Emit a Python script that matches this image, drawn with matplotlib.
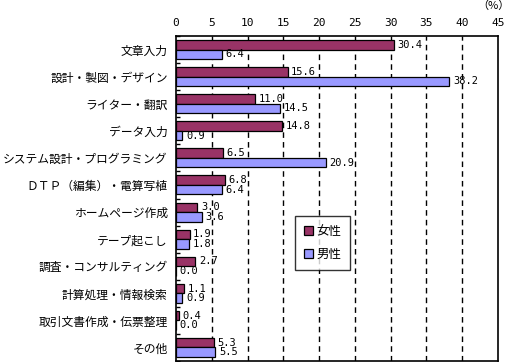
import numpy as np
import matplotlib
matplotlib.use('Agg')
import matplotlib.pyplot as plt
from matplotlib.ticker import FixedLocator

plt.rcParams['font.family'] = ['Noto Sans CJK JP', 'DejaVu Sans']

categories = ['文章入力', '設計・製図・デザイン', 'ライター・翻訳', 'データ入力',
              'システム設計・プログラミング', 'ＤＴＰ（編集）・電算写植', 'ホームページ作成',
              'テープ起こし', '調査・コンサルティング', '計算処理・情報検索',
              '取引文書作成・伝票整理', 'その他']
female = [30.4, 15.6, 11.0, 14.8, 6.5, 6.8, 3.0, 1.9, 2.7, 1.1, 0.4, 5.3]
male = [6.4, 38.2, 14.5, 0.9, 20.9, 6.4, 3.6, 1.8, 0.0, 0.9, 0.0, 5.5]
xticks = [0, 5, 10, 15, 20, 25, 30, 35, 40, 45]

fig = plt.figure(figsize=(5.1, 3.62), dpi=100)
ax = fig.add_axes([176 / 510, 1 - 361 / 362, 322 / 510, 325 / 362])

n = len(categories)
y = np.arange(n)
h = 0.35
c_f = '#993366'
c_m = '#9999FF'

ax.barh(y - h / 2, female, height=h, color=c_f, edgecolor='black', linewidth=0.9, label='女性', zorder=3)
ax.barh(y + h / 2, male, height=h, color=c_m, edgecolor='black', linewidth=0.9, label='男性', zorder=3)

for i in range(n):
    ax.text(female[i] + 0.5, y[i] - h / 2, f'{female[i]:.1f}', va='center', ha='left',
            fontsize=7.5, family='DejaVu Sans Mono', zorder=4)
    ax.text(male[i] + 0.5, y[i] + h / 2, f'{male[i]:.1f}', va='center', ha='left',
            fontsize=7.5, family='DejaVu Sans Mono', zorder=4)

ax.set_xlim(0, 45)
ax.set_ylim(n - 0.5, -0.5)
ax.set_xticks(xticks)
ax.xaxis.tick_top()
ax.tick_params(axis='x', length=0, labelsize=8, pad=6)
for lab in ax.get_xticklabels():
    lab.set_family('DejaVu Sans Mono')
ax.set_yticks(y)
ax.set_yticklabels(categories, fontsize=8.5)
ax.tick_params(axis='y', length=0, pad=6)
ax.yaxis.set_minor_locator(FixedLocator(np.arange(n + 1) - 0.5))
ax.tick_params(axis='y', which='minor', direction='in', length=3, width=1)

for xv in xticks[1:-1]:
    ax.axvline(xv, color='black', linestyle=(0, (4, 3)), linewidth=1, zorder=1)

for s in ax.spines.values():
    s.set_linewidth(1.2)

fig.text(1.0, 1.0, '（%）', ha='right', va='top', fontsize=8)

leg = ax.legend(loc='upper left', bbox_to_anchor=(0.370, 0.446), borderaxespad=0, fontsize=9,
                frameon=True, fancybox=False, edgecolor='black', handlelength=0.7,
                handleheight=0.7, handletextpad=0.3, labelspacing=0.8, borderpad=0.7)
leg.get_frame().set_linewidth(1)

fig.savefig('out.png', dpi=100)
